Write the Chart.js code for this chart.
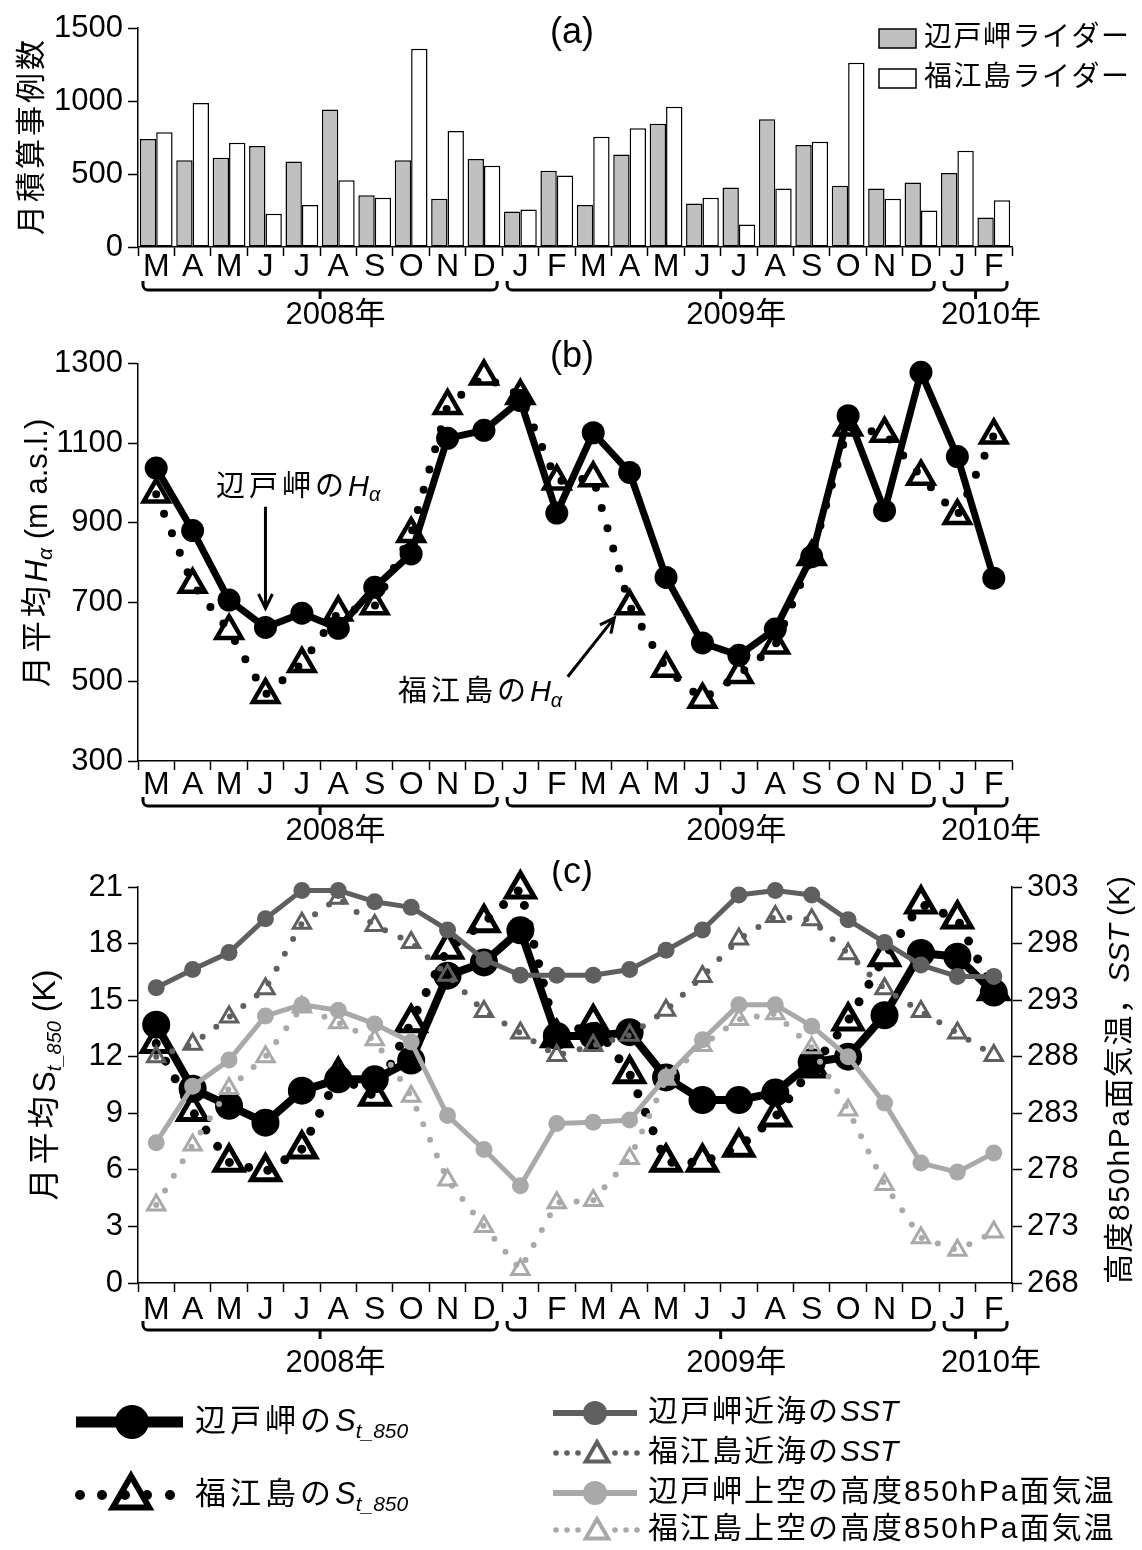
<!DOCTYPE html>
<html>
<head>
<meta charset="utf-8">
<script src="https://cdn.jsdelivr.net/npm/chart.js@4.4.0/dist/chart.umd.min.js"></script>
<style>
html, body { margin: 0; padding: 0; background: #fff; }
#page { position: relative; width: 1142px; height: 1550px; }
.panel { position: absolute; left: 0; width: 1142px; }
</style>
</head>
<body>
<div id="page">
  <div class="panel" style="top:0;height:340px"><canvas id="chartA"></canvas></div>
  <div class="panel" style="top:340px;height:520px"><canvas id="chartB"></canvas></div>
  <div class="panel" style="top:860px;height:690px"><canvas id="chartC"></canvas></div>
</div>
<script>
const FONT = '"Liberation Sans", "Noto Sans CJK JP", sans-serif';
const DARK = '#5f5f5f';
const LIGHT = '#a9a9a9';

// months Mar 2008 .. Feb 2010
const months = ['M','A','M','J','J','A','S','O','N','D','J','F','M','A','M','J','J','A','S','O','N','D','J','F'];
const yearNames = ['2008', '2009', '2010'];
const yearFirst = [0, 10, 22];
const yearLast = [9, 21, 23];

// (a) monthly case counts
const hedoLidarCounts  = [740, 595, 611, 692, 586, 941, 355, 595, 330, 602, 243, 522, 288, 634, 845, 298, 408, 875, 698, 419, 401, 442, 506, 202];
const fukueLidarCounts = [786, 987, 714, 227, 288, 458, 337, 1358, 795, 556, 257, 490, 755, 813, 961, 337, 154, 401, 721, 1262, 330, 250, 659, 321];

// (b) monthly mean H_alpha (m a.s.l.)
const hedoHalpha  = [1037, 880, 705, 636, 672, 634, 737, 821, 1112, 1132, 1207, 924, 1126, 1026, 762, 597, 566, 632, 814, 1169, 930, 1278, 1066, 760];
const fukueHalpha = [971, 744, 628, 467, 545, 674, 690, 872, 1194, 1268, 1219, 1004, 1012, 690, 533, 455, 517, 591, 814, 1140, 1124, 1016, 917, 1120];

// (c) S_t_850 (K), left axis
const hedoSt850  = [13.7, 10.3, 9.4, 8.5, 10.2, 10.8, 10.8, 11.8, 16.3, 17.0, 18.7, 13.1, 13.1, 13.3, 10.9, 9.7, 9.7, 10.1, 11.7, 12.0, 14.2, 17.5, 17.3, 15.4];
const fukueSt850 = [12.7, 9.1, 6.4, 5.9, 7.1, 11.0, 9.9, 13.8, 17.7, 19.1, 20.9, 13.0, 13.8, 11.1, 6.4, 6.4, 7.2, 8.8, 11.4, 13.9, 17.3, 20.1, 19.3, 15.5];
// (c) SST and 850hPa temperature (K), right axis
const hedoSST   = [294.1, 295.7, 297.2, 300.2, 302.7, 302.7, 301.7, 301.2, 299.2, 296.6, 295.2, 295.2, 295.2, 295.7, 297.4, 299.2, 302.3, 302.7, 302.3, 300.1, 298.1, 296.1, 295.1, 295.1];
const fukueSST  = [288.0, 289.1, 291.5, 294.0, 299.8, 302.0, 299.6, 298.1, 295.2, 292.0, 290.1, 288.1, 289.0, 289.9, 292.1, 295.1, 298.4, 300.4, 300.1, 297.1, 294.0, 292.0, 290.1, 288.1];
const hedoT850  = [280.4, 285.4, 287.7, 291.6, 292.6, 292.1, 290.9, 289.3, 282.8, 279.8, 276.6, 282.1, 282.2, 282.4, 286.2, 289.5, 292.6, 292.6, 290.7, 288.0, 283.9, 278.6, 277.8, 279.5];
const fukueT850 = [274.9, 280.2, 285.2, 288.0, 292.4, 291.0, 289.5, 284.5, 277.1, 273.0, 269.2, 275.1, 275.3, 279.0, 286.0, 289.0, 291.3, 291.8, 288.8, 283.3, 276.7, 272.0, 270.9, 272.5];

// ---------- drawing helpers ----------
function fontStr(seg, base) {
    return (seg.italic ? 'italic ' : '') + (seg.size || base) + 'px ' + FONT;
}

// draws text made of several styled pieces (italic, subscript...)
function drawRich(ctx, segs, x, y, opts) {
    const base = opts.size || 30;
    const sp = opts.spacing || 0;
    ctx.save();
    ctx.translate(x, y);
    if (opts.rotate) ctx.rotate(opts.rotate);
    let total = 0;
    segs.forEach(s => {
        ctx.font = fontStr(s, base);
        for (const ch of s.t) total += ctx.measureText(ch).width + (s.sp !== undefined ? s.sp : sp);
    });
    let cx = opts.align === 'center' ? -total / 2 : (opts.align === 'right' ? -total : 0);
    ctx.textAlign = 'left';
    ctx.textBaseline = 'middle';
    ctx.fillStyle = opts.color || '#000';
    segs.forEach(s => {
        ctx.font = fontStr(s, base);
        for (const ch of s.t) {
            ctx.fillText(ch, cx, s.dy || 0);
            cx += ctx.measureText(ch).width + (s.sp !== undefined ? s.sp : sp);
        }
    });
    ctx.restore();
}

function drawMarker(ctx, style, x, y, r, fill, stroke, lw) {
    ctx.save();
    ctx.beginPath();
    if (style === 'circle') {
        ctx.arc(x, y, r, 0, Math.PI * 2);
    } else {
        ctx.moveTo(x, y - r);
        ctx.lineTo(x + 0.866 * r, y + 0.5 * r);
        ctx.lineTo(x - 0.866 * r, y + 0.5 * r);
        ctx.closePath();
    }
    if (fill) { ctx.fillStyle = fill; ctx.fill(); }
    if (lw) { ctx.strokeStyle = stroke; ctx.lineWidth = lw; ctx.stroke(); }
    ctx.restore();
}

function drawYearBrackets(chart, yb, yText) {
    const ctx = chart.ctx;
    const xs = chart.scales.x;
    ctx.save();
    ctx.strokeStyle = '#000';
    ctx.lineWidth = 3;
    yearNames.forEach((name, i) => {
        const x0 = xs.getPixelForValue(yearFirst[i] - 0.5) + 5;
        const x1 = xs.getPixelForValue(yearLast[i] + 0.5) - 5;
        const xm = (x0 + x1) / 2;
        ctx.beginPath();
        ctx.moveTo(x0, yb - 9);
        ctx.arcTo(x0, yb, x0 + 6, yb, 5);
        ctx.arcTo(x1, yb, x1, yb - 9, 5);
        ctx.lineTo(x1, yb - 9);
        ctx.stroke();
        ctx.beginPath();
        ctx.moveTo(xm, yb);
        ctx.lineTo(xm, yb + 9);
        ctx.stroke();
        // number centred on the tick, 年 appended
        ctx.font = '31px ' + FONT;
        const w = ctx.measureText(name).width;
        drawRich(ctx, [{ t: name }, { t: '年' }], xm - w / 2, yText, { size: 31 });
    });
    ctx.restore();
}

function drawArrow(ctx, x0, y0, x1, y1) {
    const a = Math.atan2(y1 - y0, x1 - x0);
    const len = 16, spread = 0.45;
    ctx.save();
    ctx.strokeStyle = '#000';
    ctx.lineWidth = 3;
    ctx.beginPath();
    ctx.moveTo(x0, y0);
    ctx.lineTo(x1, y1);
    ctx.moveTo(x1 - len * Math.cos(a - spread), y1 - len * Math.sin(a - spread));
    ctx.lineTo(x1, y1);
    ctx.lineTo(x1 - len * Math.cos(a + spread), y1 - len * Math.sin(a + spread));
    ctx.stroke();
    ctx.restore();
}

// ---------- shared axis builders ----------
function monthAxis(labelPad, height) {
    return {
        type: 'category',
        offset: true,
        grid: { display: true, offset: true, drawOnChartArea: false, drawTicks: true, tickLength: 9, tickWidth: 1.5, tickColor: '#000' },
        border: { display: true, color: '#000', width: 1.5 },
        ticks: { color: '#000', font: { family: FONT, size: 32 }, padding: labelPad, maxRotation: 0, autoSkip: false },
        afterFit: s => { s.height = height; }
    };
}

function valueAxis(position, tickValues, width) {
    return {
        type: 'linear',
        position: position,
        min: tickValues[0],
        max: tickValues[tickValues.length - 1],
        grid: { display: true, drawOnChartArea: false, drawTicks: true, tickLength: 10, tickWidth: 1.5, tickColor: '#000' },
        border: { display: true, color: '#000', width: 1.5 },
        ticks: { color: '#000', font: { family: FONT, size: 31 }, padding: 5, callback: v => String(v) },
        afterBuildTicks: s => { s.ticks = tickValues.map(v => ({ value: v })); },
        afterFit: s => { s.width = width; }
    };
}

const baseOptions = {
    responsive: true,
    maintainAspectRatio: false,
    animation: false,
    devicePixelRatio: 1,
    plugins: { legend: { display: false }, tooltip: { enabled: false } }
};

// ---------- (a) ----------
const panelA = {
    id: 'panelA',
    afterDraw(chart) {
        const ctx = chart.ctx;
        drawRich(ctx, [{ t: '(a)' }], 572, 33, { size: 36, align: 'center' });
        // legend
        ctx.save();
        ctx.lineWidth = 1.5;
        ctx.strokeStyle = '#000';
        ctx.fillStyle = '#c0c0c0';
        ctx.fillRect(879, 29, 37, 19);
        ctx.strokeRect(879, 29, 37, 19);
        ctx.fillStyle = '#fff';
        ctx.fillRect(879, 69, 37, 19);
        ctx.strokeRect(879, 69, 37, 19);
        ctx.restore();
        drawRich(ctx, [{ t: '辺戸岬ライダー' }], 924, 38, { size: 28, spacing: 1.5 });
        drawRich(ctx, [{ t: '福江島ライダー' }], 924, 78, { size: 28, spacing: 1.5 });
        drawRich(ctx, [{ t: '月積算事例数' }], 33, 136, { size: 30, spacing: 3, align: 'center', rotate: -Math.PI / 2 });
        drawYearBrackets(chart, 290, 315);
    }
};

new Chart(document.getElementById('chartA'), {
    type: 'bar',
    data: {
        labels: months,
        datasets: [
            { label: '辺戸岬ライダー', data: hedoLidarCounts, backgroundColor: '#c0c0c0', borderColor: '#000', borderWidth: 1.5, borderSkipped: false, categoryPercentage: 0.9, barPercentage: 1 },
            { label: '福江島ライダー', data: fukueLidarCounts, backgroundColor: '#fff', borderColor: '#000', borderWidth: 1.5, borderSkipped: false, categoryPercentage: 0.9, barPercentage: 1 }
        ]
    },
    options: Object.assign({}, baseOptions, {
        layout: { padding: { top: 28, right: 130, left: 0, bottom: 0 } },
        scales: {
            x: monthAxis(-8, 93),
            y: valueAxis('left', [0, 500, 1000, 1500], 138)
        }
    }),
    plugins: [panelA]
});

// ---------- (b) ----------
const panelB = {
    id: 'panelB',
    afterDraw(chart) {
        const ctx = chart.ctx;
        const xs = chart.scales.x, ys = chart.scales.y;
        drawRich(ctx, [{ t: '(b)' }], 572, 17, { size: 36, align: 'center' });
        drawRich(ctx, [{ t: '月平均', sp: 4 }, { t: 'H', italic: true }, { t: 'α', italic: true, size: 21, dy: 8 }, { t: ' (m a.s.l.)' }],
            38, 213, { size: 31, align: 'center', rotate: -Math.PI / 2 });
        // annotations
        drawRich(ctx, [{ t: '辺戸岬の', sp: 4 }, { t: 'H', italic: true }, { t: 'α', italic: true, size: 20, dy: 8 }],
            xs.getPixelForValue(3.9), ys.getPixelForValue(988), { size: 29, align: 'center' });
        drawArrow(ctx, xs.getPixelForValue(3), ys.getPixelForValue(940), xs.getPixelForValue(3), ys.getPixelForValue(684));
        drawRich(ctx, [{ t: '福江島の', sp: 4 }, { t: 'H', italic: true }, { t: 'α', italic: true, size: 20, dy: 8 }],
            xs.getPixelForValue(11.15), ys.getPixelForValue(471), { size: 29, align: 'right' });
        drawArrow(ctx, xs.getPixelForValue(11.3), ys.getPixelForValue(512), xs.getPixelForValue(12.58), ys.getPixelForValue(660));
        drawYearBrackets(chart, 466, 491);
    }
};

new Chart(document.getElementById('chartB'), {
    type: 'line',
    data: {
        labels: months,
        datasets: [
            {
                label: '辺戸岬のHα', data: hedoHalpha, borderColor: '#000', borderWidth: 7, borderJoinStyle: 'round',
                pointRadius: 11.5, pointBackgroundColor: '#000', pointBorderWidth: 0, tension: 0, clip: false
            },
            {
                label: '福江島のHα', data: fukueHalpha, borderColor: '#000', borderWidth: 8, borderDash: [0, 21], borderCapStyle: 'round',
                pointStyle: 'triangle', pointRadius: 14.5, pointBorderWidth: 4.5, pointBorderColor: '#000',
                pointBackgroundColor: 'rgba(0,0,0,0)', tension: 0, clip: false
            }
        ]
    },
    options: Object.assign({}, baseOptions, {
        layout: { padding: { top: 17, right: 130, left: 0, bottom: 0 } },
        scales: {
            x: monthAxis(-4, 99),
            y: valueAxis('left', [300, 500, 700, 900, 1100, 1300], 138)
        }
    }),
    plugins: [panelB]
});

// ---------- (c) ----------
const panelC = {
    id: 'panelC',
    afterDraw(chart) {
        const ctx = chart.ctx;
        drawRich(ctx, [{ t: '(c)' }], 572, 13, { size: 36, align: 'center' });
        drawRich(ctx, [{ t: '月平均', sp: 4 }, { t: 'S' }, { t: 't_850', italic: true, size: 20, dy: 9 }, { t: ' (K)' }],
            46, 225, { size: 32, align: 'center', rotate: -Math.PI / 2 });
        drawRich(ctx, [{ t: '高度850hPa面気温，', sp: 1.5 }, { t: 'SST', italic: true }, { t: ' (K)' }],
            1121, 220, { size: 30, align: 'center', rotate: -Math.PI / 2 });
        drawYearBrackets(chart, 470, 503);

        // legend, left column
        ctx.save();
        ctx.strokeStyle = '#000';
        ctx.lineWidth = 11;
        ctx.beginPath();
        ctx.moveTo(76, 562);
        ctx.lineTo(183, 562);
        ctx.stroke();
        ctx.restore();
        drawMarker(ctx, 'circle', 132, 562, 17, '#000');
        drawRich(ctx, [{ t: '辺戸岬の', sp: 4 }, { t: 'S', italic: true }, { t: 't_850', italic: true, size: 21, dy: 10 }], 195, 562, { size: 31 });

        [80, 102, 125, 147, 170].forEach(x => drawMarker(ctx, 'circle', x, 635, 5, '#000'));
        drawMarker(ctx, 'triangle', 131, 637, 21, null, '#000', 6);
        drawRich(ctx, [{ t: '福江島の', sp: 4 }, { t: 'S', italic: true }, { t: 't_850', italic: true, size: 21, dy: 10 }], 195, 635, { size: 31 });

        // legend, right column
        const rows = [
            { y: 553, color: DARK, dotted: false, text: '辺戸岬近海の', sst: true },
            { y: 593, color: DARK, dotted: true, text: '福江島近海の', sst: true },
            { y: 633, color: LIGHT, dotted: false, text: '辺戸岬上空の高度850hPa面気温', sst: false },
            { y: 670, color: LIGHT, dotted: true, text: '福江島上空の高度850hPa面気温', sst: false }
        ];
        rows.forEach(r => {
            if (r.dotted) {
                [556, 567, 578, 615, 626, 637].forEach(x => drawMarker(ctx, 'circle', x, r.y, 2.8, r.color));
                drawMarker(ctx, 'triangle', 597, r.y + 2, 13, null, r.color, 4);
            } else {
                ctx.save();
                ctx.strokeStyle = r.color;
                ctx.lineWidth = 6;
                ctx.beginPath();
                ctx.moveTo(553, r.y);
                ctx.lineTo(637, r.y);
                ctx.stroke();
                ctx.restore();
                drawMarker(ctx, 'circle', 595, r.y, 12, r.color);
            }
            const segs = [{ t: r.text }];
            if (r.sst) segs.push({ t: 'SST', italic: true, sp: 0 });
            drawRich(ctx, segs, 648, r.y, { size: 30, spacing: 2 });
        });
    }
};

new Chart(document.getElementById('chartC'), {
    type: 'line',
    data: {
        labels: months,
        datasets: [
            {
                label: '辺戸岬近海のSST', data: hedoSST, yAxisID: 'y2', order: 1,
                borderColor: DARK, borderWidth: 5, borderJoinStyle: 'round',
                pointRadius: 8.5, pointBackgroundColor: DARK, pointBorderWidth: 0, tension: 0, clip: false
            },
            {
                label: '福江島近海のSST', data: fukueSST, yAxisID: 'y2', order: 2,
                borderColor: DARK, borderWidth: 6, borderDash: [0, 17], borderCapStyle: 'round',
                pointStyle: 'triangle', pointRadius: 10, pointBorderWidth: 3, pointBorderColor: DARK,
                pointBackgroundColor: 'rgba(0,0,0,0)', tension: 0, clip: false
            },
            {
                label: '辺戸岬上空の高度850hPa面気温', data: hedoT850, yAxisID: 'y2', order: 3,
                borderColor: LIGHT, borderWidth: 5, borderJoinStyle: 'round',
                pointRadius: 8.5, pointBackgroundColor: LIGHT, pointBorderWidth: 0, tension: 0, clip: false
            },
            {
                label: '福江島上空の高度850hPa面気温', data: fukueT850, yAxisID: 'y2', order: 4,
                borderColor: LIGHT, borderWidth: 6, borderDash: [0, 17], borderCapStyle: 'round',
                pointStyle: 'triangle', pointRadius: 10, pointBorderWidth: 3, pointBorderColor: LIGHT,
                pointBackgroundColor: 'rgba(0,0,0,0)', tension: 0, clip: false
            },
            {
                label: '辺戸岬のSt_850', data: hedoSt850, yAxisID: 'y', order: 5,
                borderColor: '#000', borderWidth: 8, borderJoinStyle: 'round',
                pointRadius: 14, pointBackgroundColor: '#000', pointBorderWidth: 0, tension: 0, clip: false
            },
            {
                label: '福江島のSt_850', data: fukueSt850, yAxisID: 'y', order: 6,
                borderColor: '#000', borderWidth: 9, borderDash: [0, 20], borderCapStyle: 'round',
                pointStyle: 'triangle', pointRadius: 16, pointBorderWidth: 5, pointBorderColor: '#000',
                pointBackgroundColor: 'rgba(0,0,0,0)', tension: 0, clip: false
            }
        ]
    },
    options: Object.assign({}, baseOptions, {
        layout: { padding: { top: 27, right: 0, left: 0, bottom: 0 } },
        scales: {
            x: monthAxis(-1, 267),
            y: valueAxis('left', [0, 3, 6, 9, 12, 15, 18, 21], 138),
            y2: valueAxis('right', [268, 273, 278, 283, 288, 293, 298, 303], 130)
        }
    }),
    plugins: [panelC]
});
</script>
</body>
</html>
